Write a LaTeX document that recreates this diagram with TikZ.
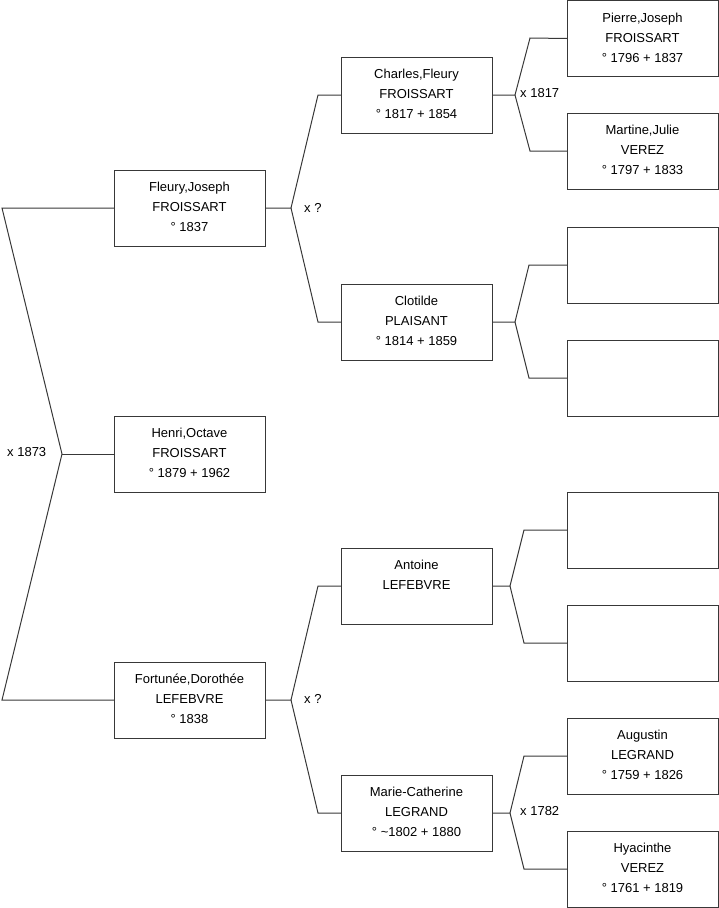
\documentclass[tikz,border=0pt]{standalone}
\usepackage{fontspec}
\setmainfont{Liberation Sans}
\begin{document}
\begin{tikzpicture}[x=1pt,y=-1pt,
  pbox/.style={draw=black!78,line width=1pt,minimum width=151pt,minimum height=76pt,anchor=north west,inner sep=0pt,outer sep=0pt},
  ptext/.style={anchor=north,align=center,inner sep=0pt,font=\fontsize{13}{20}\selectfont,yshift=-7.5pt},
  lnk/.style={draw=black!78,line width=1pt},
  mlabel/.style={anchor=west,inner sep=0pt,font=\fontsize{13}{20}\selectfont}]
\useasboundingbox (0,0) rectangle (719,908);
% column 1
\node[pbox] (fleury) at (114,170) {};
\node[ptext] (tfleury) at (fleury.north) {\strut Fleury,Joseph\\FROISSART\\° 1837};
\node[pbox] (henri) at (114,416) {};
\node[ptext] (thenri) at (henri.north) {\strut Henri,Octave\\FROISSART\\° 1879 + 1962};
\node[pbox] (fort) at (114,662) {};
\node[ptext] (tfort) at (fort.north) {\strut Fortunée,Dorothée\\LEFEBVRE\\° 1838};
% column 2
\node[pbox] (charles) at (341,57) {};
\node[ptext] (tcharles) at (charles.north) {\strut Charles,Fleury\\FROISSART\\° 1817 + 1854};
\node[pbox] (clotilde) at (341,284) {};
\node[ptext] (tclotilde) at (clotilde.north) {\strut Clotilde\\PLAISANT\\° 1814 + 1859};
\node[pbox] (antoine) at (341,548) {};
\node[ptext] (tantoine) at (antoine.north) {\strut Antoine\\LEFEBVRE};
\node[pbox] (marie) at (341,775) {};
\node[ptext] (tmarie) at (marie.north) {\strut Marie-Catherine\\LEGRAND\\° \textasciitilde1802 + 1880};
% column 3
\node[pbox] (pierre) at (567,0.5) {};
\node[ptext] (tpierre) at (pierre.north) {\strut Pierre,Joseph\\FROISSART\\° 1796 + 1837};
\node[pbox] (martine) at (567,113) {};
\node[ptext] (tmartine) at (martine.north) {\strut Martine,Julie\\VEREZ\\° 1797 + 1833};
\node[pbox] (e1) at (567,227) {};
\node[pbox] (e2) at (567,340) {};
\node[pbox] (e3) at (567,492) {};
\node[pbox] (e4) at (567,605) {};
\node[pbox] (augustin) at (567,718) {};
\node[ptext] (taugustin) at (augustin.north) {\strut Augustin\\LEGRAND\\° 1759 + 1826};
\node[pbox] (hyacinthe) at (567,831) {};
\node[ptext] (thyacinthe) at (hyacinthe.north) {\strut Hyacinthe\\VEREZ\\° 1761 + 1819};
% joints
\coordinate (j0) at (62,454);
\coordinate (j1) at (291,208);
\coordinate (j2) at (291,700);
\coordinate (j3) at (515,95);
\coordinate (j4) at (515,322);
\coordinate (j5) at (510,586);
\coordinate (j6) at (510,813);
% connectors
\draw[lnk] (fleury.west) -- (2,208) -- (j0) -- (2,700) -- (fort.west);
\draw[lnk] (j0) -- (henri.west);
\draw[lnk] (fleury.east) -- (j1) -- (318,95) -- (charles.west);
\draw[lnk] (j1) -- (318,322) -- (clotilde.west);
\draw[lnk] (fort.east) -- (j2) -- (318,586) -- (antoine.west);
\draw[lnk] (j2) -- (318,813) -- (marie.west);
\draw[lnk] (charles.east) -- (j3) -- (530,38) -- (pierre.west);
\draw[lnk] (j3) -- (530,151) -- (martine.west);
\draw[lnk] (clotilde.east) -- (j4) -- (529,265) -- (e1.west);
\draw[lnk] (j4) -- (529,378) -- (e2.west);
\draw[lnk] (antoine.east) -- (j5) -- (524,530) -- (e3.west);
\draw[lnk] (j5) -- (524,643) -- (e4.west);
\draw[lnk] (marie.east) -- (j6) -- (524,756) -- (augustin.west);
\draw[lnk] (j6) -- (524,869) -- (hyacinthe.west);
% marriage labels
\node[mlabel] (m0) at (7,452) {x 1873};
\node[mlabel] (m1) at (304,208) {x ?};
\node[mlabel] (m2) at (304,699) {x ?};
\node[mlabel] (m3) at (520,93) {x 1817};
\node[mlabel] (m4) at (520,811) {x 1782};
\end{tikzpicture}
\end{document}
